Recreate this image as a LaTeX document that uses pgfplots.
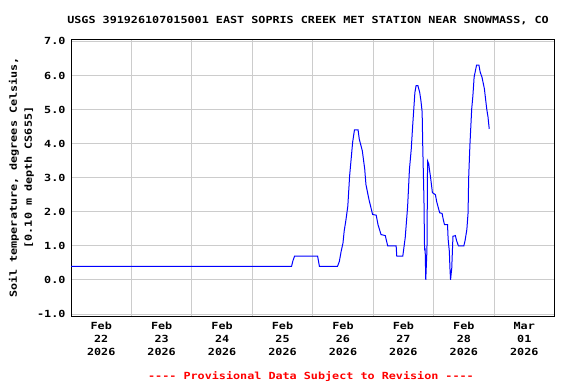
\documentclass[border=0pt]{standalone}
\usepackage{fontspec}
\setmainfont{DejaVu Sans Mono}[FakeStretch=1.2]
\usepackage{pgfplots}
\pgfplotsset{compat=1.18}
\newcommand\uf{\fontsize{9.8pt}{12.8pt}\selectfont\bfseries}
\definecolor{gridgray}{RGB}{204,204,204}
\begin{document}
\begin{tikzpicture}
\path[use as bounding box] (0,0) rectangle (576pt,384pt);
\begin{axis}[
  at={(71pt,68pt)}, anchor=south west,
  scale only axis, width=483.5pt, height=277pt,
  xmin=0, xmax=8, ymin=-1.06, ymax=7.07,
  axis line style={black, line width=0.8pt},
  xtick={0.5,1.5,2.5,3.5,4.5,5.5,6.5,7.5},
  xticklabels={{Feb\\22\\2026},{Feb\\23\\2026},{Feb\\24\\2026},{Feb\\25\\2026},{Feb\\26\\2026},{Feb\\27\\2026},{Feb\\28\\2026},{Mar\\01\\2026}},
  minor xtick={1,2,3,4,5,6,7},
  xminorgrids=true, xmajorgrids=false,
  ytick={-1,0,1,2,3,4,5,6,7},
  ymajorgrids=true,
  grid style={gridgray, line width=0.8pt},
  minor grid style={gridgray, line width=0.8pt},
  major tick length=0pt, minor tick length=0pt,
  xticklabel style={align=center, font=\uf, yshift=-3pt},
  yticklabel style={font=\uf, xshift=-2pt},
  /pgf/number format/.cd, fixed, fixed zerofill, precision=1, assume math mode=true,
]
\addplot[blue, line width=1pt, sharp plot] coordinates {
(0,0.4) (3.65,0.4) (3.67,0.55) (3.70,0.7) (4.08,0.7) (4.11,0.4) (4.41,0.4)
(4.44,0.54) (4.47,0.84) (4.50,1.08) (4.52,1.43) (4.55,1.77) (4.58,2.16)
(4.61,3.05) (4.64,3.64) (4.66,4.04) (4.69,4.4) (4.75,4.4) (4.77,4.13)
(4.82,3.79) (4.86,3.25) (4.88,2.8) (4.93,2.36) (4.97,2.07) (4.99,1.92)
(5.05,1.9) (5.08,1.62) (5.13,1.33) (5.20,1.3) (5.24,1.0) (5.38,1.0)
(5.39,0.7) (5.49,0.7) (5.53,1.24) (5.57,2.16) (5.60,3.25) (5.63,3.84)
(5.65,4.43) (5.67,4.97) (5.69,5.5) (5.71,5.7) (5.74,5.7) (5.77,5.5)
(5.79,5.26) (5.81,4.93) (5.82,3.94) (5.84,2.36) (5.85,0.89) (5.86,0.9)
(5.87,0.0) (5.89,0.9) (5.90,3.49) (5.92,3.4) (5.93,3.25) (5.95,3.0)
(5.98,2.56) (6.03,2.5) (6.05,2.3) (6.08,2.1) (6.10,1.97) (6.14,1.95)
(6.16,1.77) (6.18,1.62) (6.23,1.62) (6.24,1.2) (6.26,0.84) (6.27,0.35)
(6.28,0.0) (6.30,0.35) (6.32,1.28) (6.36,1.3) (6.38,1.15) (6.41,1.0)
(6.50,1.0) (6.52,1.15) (6.55,1.48) (6.57,1.97) (6.58,3.0) (6.60,3.94)
(6.63,5.02) (6.65,5.41) (6.67,5.95) (6.71,6.3) (6.75,6.3) (6.77,6.1)
(6.80,5.95) (6.84,5.61) (6.86,5.3) (6.88,5.0) (6.90,4.78) (6.92,4.43)
};
\end{axis}
\node[anchor=base, font=\uf] at (308pt,360pt) {USGS 391926107015001 EAST SOPRIS CREEK MET STATION NEAR SNOWMASS, CO};
\node[rotate=90, align=center, font=\fontsize{9.8pt}{15pt}\selectfont\bfseries] at (21.5pt,206.5pt) {Soil temperature, degrees Celsius,\\{[0.10 m depth CS655]}};
\node[anchor=base, font=\uf, text=red] at (311pt,5pt) {{-}{-}{-}{-} Provisional Data Subject to Revision {-}{-}{-}{-}};
\end{tikzpicture}
\end{document}
